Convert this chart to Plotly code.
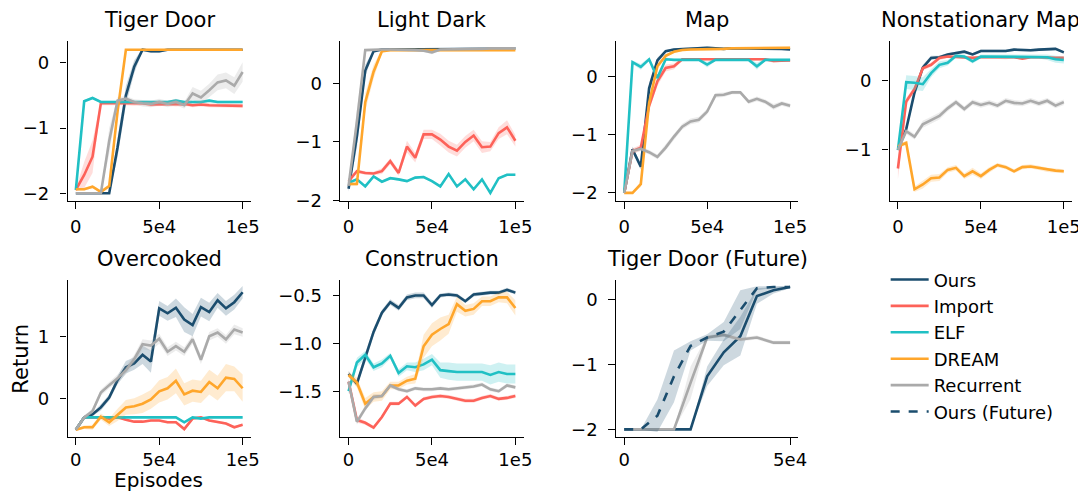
import plotly.graph_objects as go

# ---------------- data ----------------
EPISODES = [0, 5000, 10000, 15000, 20000, 25000, 30000, 35000, 40000, 45000, 50000,
            55000, 60000, 65000, 70000, 75000, 80000, 85000, 90000, 95000, 100000]
EPISODES_FUT = [0, 5000, 10000, 15000, 20000, 25000, 30000, 35000, 40000, 45000, 50000]

# Tiger Door
TD_OURS = [-2, -2, -2, -2, -2, -1.3, -0.5, -0.06, 0.2, 0.18, 0.18, 0.2, 0.2, 0.2, 0.2, 0.2, 0.2, 0.2, 0.2, 0.2, 0.2]
TD_OURS_SD = [0, 0, 0, 0, 0, 0.15, 0.15, 0.1, 0.02, 0.03, 0.03, 0.01, 0.01, 0.01, 0.01, 0.01, 0.01, 0.01, 0.01, 0.01, 0.01]
TD_IMPORT = [-1.95, -1.72, -1.44, -0.62, -0.62, -0.62, -0.62, -0.63, -0.62, -0.64, -0.64, -0.63, -0.64, -0.63, -0.65, -0.64, -0.65, -0.65, -0.65, -0.66, -0.66]
TD_IMPORT_SD = [0.02, 0.2, 0.25, 0.03, 0.03, 0.03, 0.03, 0.03, 0.03, 0.03, 0.03, 0.03, 0.03, 0.03, 0.03, 0.03, 0.03, 0.03, 0.03, 0.03, 0.03]
TD_ELF = [-1.95, -0.59, -0.54, -0.6, -0.6, -0.6, -0.6, -0.6, -0.6, -0.6, -0.6, -0.6, -0.58, -0.6, -0.6, -0.6, -0.58, -0.6, -0.6, -0.6, -0.6]
TD_ELF_SD = [0.02, 0.02, 0.02, 0.02, 0.02, 0.02, 0.02, 0.02, 0.02, 0.02, 0.02, 0.02, 0.02, 0.02, 0.02, 0.02, 0.02, 0.02, 0.02, 0.02, 0.02]
TD_DREAM = [-1.94, -1.94, -1.9, -1.98, -1.89, -0.75, 0.2, 0.2, 0.2, 0.2, 0.2, 0.2, 0.2, 0.2, 0.2, 0.2, 0.2, 0.2, 0.2, 0.2, 0.2]
TD_DREAM_SD = [0.02, 0.02, 0.02, 0.02, 0.03, 0.1, 0.01, 0.01, 0.01, 0.01, 0.01, 0.01, 0.01, 0.01, 0.01, 0.01, 0.01, 0.01, 0.01, 0.01, 0.01]
TD_RECUR = [-2, -2, -2, -2, -1.2, -0.58, -0.55, -0.6, -0.62, -0.63, -0.6, -0.63, -0.6, -0.65, -0.47, -0.53, -0.42, -0.3, -0.27, -0.35, -0.14]
TD_RECUR_SD = [0, 0, 0, 0, 0.2, 0.05, 0.04, 0.04, 0.05, 0.05, 0.05, 0.05, 0.05, 0.05, 0.1, 0.1, 0.1, 0.12, 0.12, 0.13, 0.15]

# Light Dark
LD_OURS = [-1.8, -0.9, 0.22, 0.55, 0.58, 0.58, 0.58, 0.58, 0.58, 0.58, 0.58, 0.58, 0.58, 0.58, 0.58, 0.59, 0.59, 0.59, 0.59, 0.6, 0.6]
LD_OURS_SD = [0.05, 0.2, 0.1, 0.03, 0.02, 0.02, 0.02, 0.02, 0.02, 0.02, 0.02, 0.02, 0.02, 0.02, 0.02, 0.02, 0.02, 0.02, 0.02, 0.02, 0.02]
LD_IMPORT = [-1.67, -1.5, -1.53, -1.54, -1.5, -1.33, -1.53, -1.08, -1.27, -0.87, -0.87, -0.96, -1.08, -1.15, -1.0, -0.89, -1.09, -1.08, -0.85, -0.75, -0.98]
LD_IMPORT_SD = [0.05, 0.03, 0.03, 0.03, 0.05, 0.05, 0.05, 0.1, 0.08, 0.08, 0.08, 0.1, 0.1, 0.1, 0.1, 0.1, 0.1, 0.08, 0.1, 0.12, 0.1]
LD_ELF = [-1.7, -1.64, -1.76, -1.59, -1.68, -1.62, -1.64, -1.67, -1.61, -1.6, -1.67, -1.76, -1.55, -1.76, -1.64, -1.81, -1.64, -1.87, -1.62, -1.56, -1.56]
LD_ELF_SD = [0.03, 0.02, 0.02, 0.02, 0.02, 0.02, 0.02, 0.02, 0.02, 0.02, 0.02, 0.02, 0.02, 0.02, 0.02, 0.02, 0.02, 0.02, 0.02, 0.02, 0.02]
LD_DREAM = [-1.72, -1.72, -0.32, 0.2, 0.55, 0.57, 0.57, 0.57, 0.57, 0.57, 0.57, 0.57, 0.57, 0.57, 0.57, 0.57, 0.57, 0.57, 0.57, 0.57, 0.57]
LD_DREAM_SD = [0.03, 0.03, 0.15, 0.12, 0.03, 0.02, 0.02, 0.02, 0.02, 0.02, 0.02, 0.02, 0.02, 0.02, 0.02, 0.02, 0.02, 0.02, 0.02, 0.02, 0.02]
LD_RECUR = [-1.75, -0.65, 0.57, 0.58, 0.58, 0.58, 0.58, 0.58, 0.57, 0.56, 0.53, 0.58, 0.58, 0.58, 0.59, 0.59, 0.59, 0.6, 0.6, 0.6, 0.6]
LD_RECUR_SD = [0.05, 0.2, 0.02, 0.02, 0.02, 0.02, 0.02, 0.02, 0.02, 0.02, 0.03, 0.02, 0.02, 0.02, 0.02, 0.02, 0.02, 0.02, 0.02, 0.02, 0.02]

# Map
MAP_OURS = [-2, -1.25, -1.55, -0.2, 0.28, 0.44, 0.47, 0.48, 0.49, 0.49, 0.5, 0.49, 0.48, 0.49, 0.49, 0.49, 0.49, 0.49, 0.49, 0.48, 0.47]
MAP_OURS_SD = [0, 0.05, 0.05, 0.1, 0.05, 0.02, 0.02, 0.02, 0.02, 0.02, 0.02, 0.02, 0.02, 0.02, 0.02, 0.02, 0.02, 0.02, 0.02, 0.02, 0.02]
MAP_IMPORT = [-2, -1.28, -1.22, -0.5, -0.08, 0.15, 0.18, 0.3, 0.3, 0.3, 0.3, 0.3, 0.3, 0.3, 0.3, 0.3, 0.3, 0.3, 0.27, 0.28, 0.28]
MAP_IMPORT_SD = [0, 0.05, 0.05, 0.08, 0.08, 0.06, 0.05, 0.02, 0.02, 0.02, 0.02, 0.02, 0.02, 0.02, 0.02, 0.02, 0.02, 0.02, 0.03, 0.02, 0.02]
MAP_ELF = [-2, 0.25, 0.17, 0.3, -0.02, 0.3, 0.29, 0.29, 0.29, 0.29, 0.21, 0.29, 0.29, 0.29, 0.29, 0.29, 0.18, 0.29, 0.29, 0.29, 0.29]
MAP_ELF_SD = [0, 0.03, 0.05, 0.03, 0.06, 0.03, 0.02, 0.02, 0.02, 0.02, 0.05, 0.02, 0.02, 0.02, 0.02, 0.02, 0.06, 0.02, 0.02, 0.02, 0.02]
MAP_DREAM = [-2, -2, -1.85, -0.45, 0.18, 0.36, 0.43, 0.46, 0.47, 0.47, 0.47, 0.47, 0.48, 0.49, 0.49, 0.49, 0.49, 0.49, 0.5, 0.5, 0.5]
MAP_DREAM_SD = [0, 0, 0.05, 0.08, 0.05, 0.03, 0.02, 0.02, 0.02, 0.02, 0.02, 0.02, 0.02, 0.02, 0.02, 0.02, 0.02, 0.02, 0.02, 0.02, 0.02]
MAP_RECUR = [-2, -1.28, -1.24, -1.3, -1.38, -1.22, -1.03, -0.86, -0.77, -0.74, -0.6, -0.32, -0.31, -0.27, -0.27, -0.43, -0.38, -0.43, -0.52, -0.46, -0.5]
MAP_RECUR_SD = [0, 0.04, 0.04, 0.04, 0.04, 0.05, 0.05, 0.05, 0.05, 0.05, 0.05, 0.04, 0.04, 0.03, 0.03, 0.04, 0.04, 0.04, 0.05, 0.04, 0.04]

# Nonstationary Map
NSM_OURS = [-1.0, -0.7, -0.17, 0.19, 0.33, 0.34, 0.38, 0.4, 0.42, 0.38, 0.43, 0.43, 0.43, 0.43, 0.45, 0.44, 0.44, 0.45, 0.46, 0.46, 0.41]
NSM_OURS_SD = [0.02, 0.05, 0.05, 0.04, 0.03, 0.02, 0.02, 0.02, 0.02, 0.02, 0.02, 0.02, 0.02, 0.02, 0.02, 0.02, 0.02, 0.02, 0.02, 0.02, 0.02]
NSM_IMPORT = [-1.27, -0.3, -0.12, 0.18, 0.23, 0.33, 0.35, 0.34, 0.34, 0.33, 0.34, 0.34, 0.34, 0.33, 0.34, 0.32, 0.34, 0.34, 0.33, 0.33, 0.33]
NSM_IMPORT_SD = [0.15, 0.05, 0.04, 0.03, 0.03, 0.03, 0.02, 0.02, 0.02, 0.02, 0.02, 0.02, 0.02, 0.02, 0.02, 0.02, 0.02, 0.02, 0.02, 0.02, 0.02]
NSM_ELF = [-1.0, -0.02, -0.03, -0.05, 0.11, 0.23, 0.26, 0.36, 0.35, 0.28, 0.35, 0.35, 0.35, 0.35, 0.35, 0.35, 0.35, 0.35, 0.34, 0.31, 0.3]
NSM_ELF_SD = [0.02, 0.1, 0.1, 0.1, 0.06, 0.05, 0.04, 0.03, 0.03, 0.03, 0.03, 0.03, 0.03, 0.03, 0.03, 0.03, 0.03, 0.03, 0.04, 0.05, 0.05]
NSM_DREAM = [-0.95, -0.9, -1.57, -1.5, -1.41, -1.4, -1.29, -1.26, -1.38, -1.31, -1.38, -1.29, -1.22, -1.25, -1.31, -1.25, -1.24, -1.26, -1.29, -1.3, -1.31]
NSM_DREAM_SD = [0.03, 0.03, 0.04, 0.06, 0.05, 0.05, 0.04, 0.04, 0.04, 0.05, 0.04, 0.04, 0.03, 0.03, 0.03, 0.03, 0.03, 0.03, 0.03, 0.03, 0.03]
NSM_RECUR = [-1.0, -0.73, -0.81, -0.63, -0.57, -0.51, -0.4, -0.31, -0.41, -0.31, -0.35, -0.32, -0.36, -0.29, -0.32, -0.33, -0.29, -0.33, -0.29, -0.36, -0.31]
NSM_RECUR_SD = [0.02, 0.04, 0.04, 0.05, 0.05, 0.05, 0.04, 0.04, 0.04, 0.04, 0.04, 0.04, 0.04, 0.04, 0.04, 0.04, 0.04, 0.04, 0.04, 0.04, 0.04]

# Overcooked
OC_OURS = [-0.5, -0.3, -0.25, -0.14, 0.02, 0.3, 0.51, 0.57, 0.71, 0.6, 1.46, 1.38, 1.47, 1.28, 1.19, 1.48, 1.4, 1.59, 1.46, 1.56, 1.72]
OC_OURS_SD = [0.02, 0.03, 0.03, 0.05, 0.05, 0.07, 0.1, 0.1, 0.15, 0.18, 0.12, 0.12, 0.15, 0.2, 0.18, 0.15, 0.15, 0.12, 0.12, 0.12, 0.1]
OC_IMPORT = [-0.5, -0.3, -0.3, -0.3, -0.32, -0.3, -0.34, -0.37, -0.37, -0.35, -0.35, -0.38, -0.38, -0.49, -0.32, -0.3, -0.35, -0.38, -0.4, -0.46, -0.42]
OC_IMPORT_SD = [0.02, 0.02, 0.02, 0.02, 0.02, 0.02, 0.02, 0.02, 0.02, 0.02, 0.02, 0.02, 0.02, 0.03, 0.02, 0.02, 0.02, 0.02, 0.02, 0.02, 0.02]
OC_ELF = [-0.5, -0.3, -0.3, -0.3, -0.3, -0.3, -0.3, -0.3, -0.3, -0.3, -0.3, -0.3, -0.3, -0.38, -0.3, -0.32, -0.3, -0.3, -0.3, -0.3, -0.3]
OC_ELF_SD = [0.01, 0.01, 0.01, 0.01, 0.01, 0.01, 0.01, 0.01, 0.01, 0.01, 0.01, 0.01, 0.01, 0.02, 0.01, 0.01, 0.01, 0.01, 0.01, 0.01, 0.01]
OC_DREAM = [-0.5, -0.46, -0.46, -0.29, -0.38, -0.26, -0.14, -0.12, -0.08, -0.01, 0.12, 0.17, 0.29, 0.07, 0.13, 0.11, 0.27, 0.17, 0.34, 0.32, 0.17]
OC_DREAM_SD = [0.02, 0.03, 0.04, 0.05, 0.06, 0.1, 0.12, 0.13, 0.15, 0.15, 0.18, 0.18, 0.2, 0.18, 0.18, 0.18, 0.2, 0.2, 0.22, 0.2, 0.22]
OC_RECUR = [-0.5, -0.3, -0.2, 0.1, 0.22, 0.33, 0.46, 0.64, 0.88, 0.86, 0.97, 0.76, 0.85, 0.76, 0.96, 0.63, 1.01, 1.07, 0.96, 1.12, 1.07]
OC_RECUR_SD = [0.02, 0.03, 0.04, 0.05, 0.05, 0.06, 0.07, 0.07, 0.08, 0.08, 0.08, 0.07, 0.07, 0.07, 0.07, 0.07, 0.07, 0.07, 0.07, 0.08, 0.07]

# Construction
CON_OURS = [-1.32, -1.42, -1.15, -0.88, -0.68, -0.57, -0.63, -0.52, -0.5, -0.5, -0.6, -0.5, -0.49, -0.5, -0.56, -0.49, -0.48, -0.47, -0.47, -0.44, -0.47]
CON_OURS_SD = [0.03, 0.03, 0.05, 0.04, 0.03, 0.03, 0.03, 0.03, 0.03, 0.03, 0.03, 0.02, 0.02, 0.02, 0.02, 0.02, 0.02, 0.02, 0.02, 0.02, 0.02]
CON_IMPORT = [-1.4, -1.8, -1.83, -1.88, -1.77, -1.63, -1.63, -1.56, -1.65, -1.58, -1.56, -1.55, -1.56, -1.58, -1.6, -1.6, -1.57, -1.55, -1.58, -1.57, -1.55]
CON_IMPORT_SD = [0.03, 0.03, 0.02, 0.02, 0.02, 0.02, 0.02, 0.02, 0.02, 0.02, 0.02, 0.02, 0.02, 0.02, 0.02, 0.02, 0.02, 0.02, 0.02, 0.02, 0.02]
CON_ELF = [-1.5, -1.2, -1.12, -1.25, -1.21, -1.13, -1.31, -1.24, -1.25, -1.22, -1.17, -1.28, -1.29, -1.3, -1.3, -1.3, -1.3, -1.33, -1.3, -1.32, -1.32]
CON_ELF_SD = [0.03, 0.05, 0.04, 0.04, 0.04, 0.03, 0.04, 0.04, 0.05, 0.06, 0.06, 0.08, 0.09, 0.09, 0.09, 0.09, 0.09, 0.1, 0.1, 0.1, 0.1]
CON_DREAM = [-1.33, -1.41, -1.63, -1.56, -1.55, -1.44, -1.44, -1.39, -1.37, -1.03, -0.91, -0.85, -0.8, -0.59, -0.66, -0.64, -0.56, -0.56, -0.52, -0.52, -0.63]
CON_DREAM_SD = [0.03, 0.05, 0.06, 0.05, 0.05, 0.04, 0.04, 0.04, 0.05, 0.12, 0.12, 0.12, 0.1, 0.08, 0.06, 0.06, 0.05, 0.05, 0.05, 0.06, 0.08]
CON_RECUR = [-1.4, -1.82, -1.68, -1.56, -1.55, -1.44, -1.48, -1.5, -1.47, -1.48, -1.48, -1.47, -1.48, -1.47, -1.46, -1.45, -1.43, -1.48, -1.5, -1.44, -1.46]
CON_RECUR_SD = [0.03, 0.03, 0.03, 0.03, 0.02, 0.02, 0.02, 0.02, 0.02, 0.02, 0.02, 0.02, 0.02, 0.02, 0.02, 0.02, 0.02, 0.02, 0.02, 0.02, 0.02]

# Tiger Door (Future)
TDF_OURS = [-2, -2, -2, -2, -2, -1.18, -0.81, -0.56, 0.06, 0.15, 0.2]
TDF_OURS_SD = [0, 0, 0, 0, 0, 0.15, 0.2, 0.3, 0.12, 0.05, 0.02]
TDF_RECUR = [-2, -2, -2, -2, -1.28, -0.58, -0.54, -0.61, -0.58, -0.66, -0.66]
TDF_RECUR_SD = [0, 0, 0, 0, 0.25, 0.03, 0.03, 0.03, 0.03, 0.03, 0.03]
TDF_FUTURE = [-2, -2, -1.79, -1.18, -0.71, -0.58, -0.49, -0.15, 0.18, 0.2, 0.2]
TDF_FUTURE_SD = [0, 0, 0.25, 0.4, 0.07, 0.05, 0.15, 0.3, 0.03, 0.01, 0.01]

SERIES_NAMES = ["Ours", "Import", "ELF", "DREAM", "Recurrent", "Ours (Future)"]
PANEL_TITLES = ["Tiger Door", "Light Dark", "Map", "Nonstationary Map",
                "Overcooked", "Construction", "Tiger Door (Future)"]
X_TICKS = [0, 50000, 100000]
X_TICK_LABELS = ["0", "5e4", "1e5"]
X_TICKS_FUT = [0, 50000]
X_TICK_LABELS_FUT = ["0", "5e4"]

# ---------------- styling ----------------
COLORS = {"Ours": "#1b4d6e", "Import": "#fd6259", "ELF": "#20c0c4",
          "DREAM": "#ffa62b", "Recurrent": "#aaaaaa", "Ours (Future)": "#1b4d6e"}
W, H = 1086, 495
FONT = "DejaVu Sans"
TICK_SIZE = 18
TITLE_SIZE = 21


def rgba(hexc, a):
    h = hexc.lstrip("#")
    r, g, b = int(h[0:2], 16), int(h[2:4], 16), int(h[4:6], 16)
    return f"rgba({r},{g},{b},{a})"


def px_x(p):
    return p / W


def px_y(p):
    return 1 - p / H


COLS = [(60, 245), (335, 520), (613, 797), (889, 1073)]
ROWS = [(34, 197), (277.5, 438)]

panels = [
    dict(title=PANEL_TITLES[0], cell=(0, 0), x=EPISODES, yr=[-2.12, 0.33], yt=[-2, -1, 0],
         series=[("Ours", TD_OURS, TD_OURS_SD), ("Import", TD_IMPORT, TD_IMPORT_SD),
                 ("ELF", TD_ELF, TD_ELF_SD), ("DREAM", TD_DREAM, TD_DREAM_SD),
                 ("Recurrent", TD_RECUR, TD_RECUR_SD)]),
    dict(title=PANEL_TITLES[1], cell=(0, 1), x=EPISODES, yr=[-2.01, 0.72], yt=[-2, -1, 0],
         series=[("Ours", LD_OURS, LD_OURS_SD), ("Import", LD_IMPORT, LD_IMPORT_SD),
                 ("ELF", LD_ELF, LD_ELF_SD), ("DREAM", LD_DREAM, LD_DREAM_SD),
                 ("Recurrent", LD_RECUR, LD_RECUR_SD)]),
    dict(title=PANEL_TITLES[2], cell=(0, 2), x=EPISODES, yr=[-2.14, 0.61], yt=[-2, -1, 0],
         series=[("Ours", MAP_OURS, MAP_OURS_SD), ("Import", MAP_IMPORT, MAP_IMPORT_SD),
                 ("ELF", MAP_ELF, MAP_ELF_SD), ("DREAM", MAP_DREAM, MAP_DREAM_SD),
                 ("Recurrent", MAP_RECUR, MAP_RECUR_SD)]),
    dict(title=PANEL_TITLES[3], cell=(0, 3), x=EPISODES, yr=[-1.74, 0.57], yt=[-1, 0],
         series=[("Ours", NSM_OURS, NSM_OURS_SD), ("Import", NSM_IMPORT, NSM_IMPORT_SD),
                 ("ELF", NSM_ELF, NSM_ELF_SD), ("DREAM", NSM_DREAM, NSM_DREAM_SD),
                 ("Recurrent", NSM_RECUR, NSM_RECUR_SD)]),
    dict(title=PANEL_TITLES[4], cell=(1, 0), x=EPISODES, yr=[-0.62, 1.92], yt=[0, 1],
         series=[("Ours", OC_OURS, OC_OURS_SD), ("Import", OC_IMPORT, OC_IMPORT_SD),
                 ("ELF", OC_ELF, OC_ELF_SD), ("DREAM", OC_DREAM, OC_DREAM_SD),
                 ("Recurrent", OC_RECUR, OC_RECUR_SD)]),
    dict(title=PANEL_TITLES[5], cell=(1, 1), x=EPISODES, yr=[-1.98, -0.337], yt=[-1.5, -1.0, -0.5],
         series=[("Ours", CON_OURS, CON_OURS_SD), ("Import", CON_IMPORT, CON_IMPORT_SD),
                 ("ELF", CON_ELF, CON_ELF_SD), ("DREAM", CON_DREAM, CON_DREAM_SD),
                 ("Recurrent", CON_RECUR, CON_RECUR_SD)]),
    dict(title=PANEL_TITLES[6], cell=(1, 2), x=EPISODES_FUT, yr=[-2.12, 0.31], yt=[-2, -1, 0],
         series=[("Ours", TDF_OURS, TDF_OURS_SD), ("Recurrent", TDF_RECUR, TDF_RECUR_SD),
                 ("Ours (Future)", TDF_FUTURE, TDF_FUTURE_SD)]),
]

fig = go.Figure()
legend_done = set()
annotations = []
layout_axes = {}

for i, p in enumerate(panels):
    n = "" if i == 0 else str(i + 1)
    xa, ya = "x" + n, "y" + n
    r, c = p["cell"]
    x0, x1 = COLS[c]
    y0, y1 = ROWS[r]
    fut = p["x"] is EPISODES_FUT
    xs = p["x"]
    for name, vals, sd in p["series"]:
        col = COLORS[name]
        up = [v + s for v, s in zip(vals, sd)]
        lo = [v - s for v, s in zip(vals, sd)]
        fig.add_trace(go.Scatter(x=xs + xs[::-1], y=up + lo[::-1], xaxis=xa, yaxis=ya,
                                 fill="toself", fillcolor=rgba(col, 0.22), line=dict(width=0),
                                 mode="lines", hoverinfo="skip", showlegend=False))
        show = name not in legend_done
        if show:
            legend_done.add(name)
        fig.add_trace(go.Scatter(x=xs, y=vals, xaxis=xa, yaxis=ya, mode="lines", name=name,
                                 line=dict(color=col, width=2.6,
                                           dash="dash" if name == "Ours (Future)" else "solid"),
                                 showlegend=show, legendgroup=name,
                                 legendrank=SERIES_NAMES.index(name) + 1))
    tickfont = dict(family=FONT, size=TICK_SIZE, color="black")
    common = dict(showline=True, linecolor="black", linewidth=1.3, ticks="outside", ticklen=6.5,
                  tickwidth=1.3, tickcolor="black", showgrid=False, zeroline=False,
                  tickfont=tickfont)
    xt = X_TICKS_FUT if fut else X_TICKS
    xl = X_TICK_LABELS_FUT if fut else X_TICK_LABELS
    layout_axes["xaxis" + n] = dict(common, domain=[px_x(x0), px_x(x1)], anchor=ya,
                                    range=[-2500, 52500] if fut else [-5000, 105000],
                                    tickvals=xt, ticktext=xl,
                                    ticklabelstandoff=3 if r == 0 else 0)
    ytext = [(f"{t:.1f}" if (r, c) == (1, 1) else f"{t:g}").replace("-", "\u2212") for t in p["yt"]]
    layout_axes["yaxis" + n] = dict(common, domain=[px_y(y1), px_y(y0)], anchor=xa,
                                    range=p["yr"], tickvals=p["yt"], ticktext=ytext,
                                    ticklabelstandoff=7)
    annotations.append(dict(text=p["title"], x=px_x((x0 + x1) / 2), y=px_y(y0 - 7),
                            xref="paper", yref="paper", xanchor="center", yanchor="bottom",
                            showarrow=False, font=dict(family=FONT, size=TITLE_SIZE, color="black")))

annotations.append(dict(text="Return", x=px_x(13), y=px_y(358), xref="paper", yref="paper",
                        xanchor="center", yanchor="middle", textangle=-90, showarrow=False,
                        font=dict(family=FONT, size=TITLE_SIZE, color="black")))
annotations.append(dict(text="Episodes", x=px_x(152), y=0, xref="paper", yref="paper",
                        xanchor="center", yanchor="bottom", showarrow=False, borderpad=0,
                        font=dict(family=FONT, size=20, color="black")))

fig.update_layout(
    width=W, height=H, margin=dict(l=0, r=0, t=0, b=0),
    paper_bgcolor="white", plot_bgcolor="white",
    font=dict(family=FONT, color="black"),
    annotations=annotations,
    legend=dict(x=px_x(885), y=px_y(258.5), xanchor="left", yanchor="top",
                font=dict(family=FONT, size=18, color="black"),
                itemwidth=38, tracegroupgap=6, bgcolor="rgba(0,0,0,0)",
                traceorder="normal"),
    **layout_axes,
)

fig.write_html("out.html")
